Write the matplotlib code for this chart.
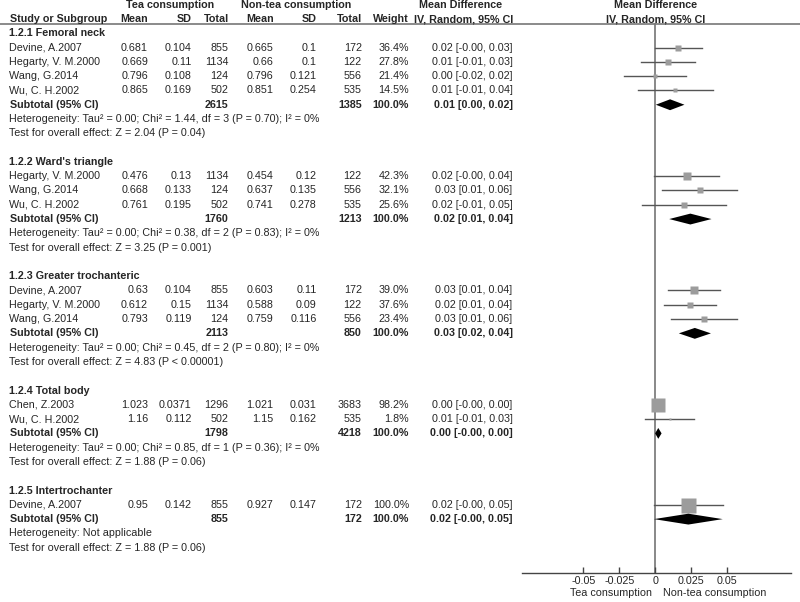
import matplotlib.pyplot as plt
import matplotlib.transforms as mtransforms
import matplotlib as mp

mp.rcParams['font.family'] = ['Liberation Sans', 'DejaVu Sans']
mp.rcParams['font.size'] = 7.75

# subgroups
groups = ['1.2.1 Femoral neck', "1.2.2 Ward's triangle", '1.2.3 Greater trochanteric',
          '1.2.4 Total body', '1.2.5 Intertrochanter']

# studies (group index, name, tea mean/sd/n, non-tea mean/sd/n, weight, CI text)
group_of = [0, 0, 0, 0, 1, 1, 1, 2, 2, 2, 3, 3, 4]
study = ['Devine, A.2007', 'Hegarty, V. M.2000', 'Wang, G.2014', 'Wu, C. H.2002',
         'Hegarty, V. M.2000', 'Wang, G.2014', 'Wu, C. H.2002',
         'Devine, A.2007', 'Hegarty, V. M.2000', 'Wang, G.2014',
         'Chen, Z.2003', 'Wu, C. H.2002',
         'Devine, A.2007']
tea_mean = [0.681, 0.669, 0.796, 0.865, 0.476, 0.668, 0.761, 0.63, 0.612, 0.793, 1.023, 1.16, 0.95]
tea_sd = [0.104, 0.11, 0.108, 0.169, 0.13, 0.133, 0.195, 0.104, 0.15, 0.119, 0.0371, 0.112, 0.142]
tea_n = [855, 1134, 124, 502, 1134, 124, 502, 855, 1134, 124, 1296, 502, 855]
non_mean = [0.665, 0.66, 0.796, 0.851, 0.454, 0.637, 0.741, 0.603, 0.588, 0.759, 1.021, 1.15, 0.927]
non_sd = [0.1, 0.1, 0.121, 0.254, 0.12, 0.135, 0.278, 0.11, 0.09, 0.116, 0.031, 0.162, 0.147]
non_n = [172, 122, 556, 535, 122, 556, 535, 172, 122, 556, 3683, 535, 172]
weight = [36.4, 27.8, 21.4, 14.5, 42.3, 32.1, 25.6, 39.0, 37.6, 23.4, 98.2, 1.8, 100.0]
ci_text = ['0.02 [-0.00, 0.03]', '0.01 [-0.01, 0.03]', '0.00 [-0.02, 0.02]', '0.01 [-0.01, 0.04]',
           '0.02 [-0.00, 0.04]', '0.03 [0.01, 0.06]', '0.02 [-0.01, 0.05]',
           '0.03 [0.01, 0.04]', '0.02 [0.01, 0.04]', '0.03 [0.01, 0.06]',
           '0.00 [-0.00, 0.00]', '0.01 [-0.01, 0.03]',
           '0.02 [-0.00, 0.05]']
# point estimates and CI bounds
md = [0.016, 0.009, 0.000, 0.014, 0.022, 0.031, 0.020, 0.027, 0.024, 0.034, 0.002, 0.010, 0.023]
lo = [-0.0005, -0.0099, -0.0215, -0.0121, -0.0006, 0.0050, -0.0091,
      0.0091, 0.0058, 0.0109, -0.0003, -0.0069, -0.0009]
hi = [0.0325, 0.0279, 0.0215, 0.0401, 0.0446, 0.0570, 0.0491,
      0.0449, 0.0422, 0.0571, 0.0043, 0.0269, 0.0469]

# subtotals
sub_tea_n = [2615, 1760, 2113, 1798, 855]
sub_non_n = [1385, 1213, 850, 4218, 172]
sub_ci = ['0.01 [0.00, 0.02]', '0.02 [0.01, 0.04]', '0.03 [0.02, 0.04]',
          '0.00 [-0.00, 0.00]', '0.02 [-0.00, 0.05]']
sub_md = [0.0103, 0.0244, 0.0275, 0.0021, 0.023]
sub_lo = [0.0004, 0.0097, 0.0164, -0.0001, -0.0009]
sub_hi = [0.0203, 0.0391, 0.0387, 0.0044, 0.0469]
heterogeneity = ['Heterogeneity: Tau\u00b2 = 0.00; Chi\u00b2 = 1.44, df = 3 (P = 0.70); I\u00b2 = 0%',
                 'Heterogeneity: Tau\u00b2 = 0.00; Chi\u00b2 = 0.38, df = 2 (P = 0.83); I\u00b2 = 0%',
                 'Heterogeneity: Tau\u00b2 = 0.00; Chi\u00b2 = 0.45, df = 2 (P = 0.80); I\u00b2 = 0%',
                 'Heterogeneity: Tau\u00b2 = 0.00; Chi\u00b2 = 0.85, df = 1 (P = 0.36); I\u00b2 = 0%',
                 'Heterogeneity: Not applicable']
overall = ['Test for overall effect: Z = 2.04 (P = 0.04)',
           'Test for overall effect: Z = 3.25 (P = 0.001)',
           'Test for overall effect: Z = 4.83 (P < 0.00001)',
           'Test for overall effect: Z = 1.88 (P = 0.06)',
           'Test for overall effect: Z = 1.88 (P = 0.06)']

xticks = [-0.05, -0.025, 0, 0.025, 0.05]
xticklabels = ['-0.05', '-0.025', '0', '0.025', '0.05']

W, H = 800, 602
TXT = '#262626'

fig = plt.figure(figsize=(W / 100, H / 100), dpi=100)
# forest panel: full height down to the axis line
ax = fig.add_axes((522 / W, 1 - 572.7 / H, 268.5 / W, 572.7 / H))
ax.set_xlim(-0.0926, 0.094)
ax.set_ylim(37.75, -2.33)
for s in ('top', 'left', 'right'):
    ax.spines[s].set_visible(False)
ax.spines['bottom'].set_color('#444444')
ax.spines['bottom'].set_linewidth(1.0)
ax.set_yticks([])
ax.set_xticks(xticks)
ax.set_xticklabels(xticklabels)
ax.tick_params(axis='x', direction='in', length=4, width=1.0, color='#444444',
               pad=2.5, labelcolor=TXT, labelsize=7.75)

tr = mtransforms.blended_transform_factory(fig.transFigure, ax.transData)


def txt(px, row, s, ha='left', bold=False):
    ax.text(px / W, row, s, transform=tr, ha=ha, va='center', color=TXT,
            fontweight='bold' if bold else 'normal')


# headers
txt(169.7, -2.0, 'Tea consumption', ha='center', bold=True)
txt(296, -2.0, 'Non-tea consumption', ha='center', bold=True)
txt(461, -2.0, 'Mean Difference', ha='center', bold=True)
txt(10, -1.0, 'Study or Subgroup', bold=True)
for px, s in [(148, 'Mean'), (191.7, 'SD'), (228.7, 'Total'), (273.5, 'Mean'),
              (316.7, 'SD'), (361.7, 'Total'), (409, 'Weight'), (513, 'IV, Random, 95% CI')]:
    txt(px, -1.0, s, ha='right', bold=True)
ax.text(0, -2.0, 'Mean Difference', ha='center', va='center', color=TXT, fontweight='bold')
ax.text(0, -1.0, 'IV, Random, 95% CI', ha='center', va='center', color=TXT, fontweight='bold')
ax.plot([0, 1], [-0.68, -0.68], transform=tr, color='#777777', lw=1.2, clip_on=False)
ax.plot([0, 0], [-0.68, 37.75], color='#888888', lw=1.4, clip_on=False, zorder=1)

row = 0
for g, gname in enumerate(groups):
    txt(9, row, gname, bold=True)
    row += 1
    for i in [k for k in range(len(study)) if group_of[k] == g]:
        txt(9, row, study[i])
        txt(148, row, str(tea_mean[i]), ha='right')
        txt(191.7, row, str(tea_sd[i]), ha='right')
        txt(228.7, row, str(tea_n[i]), ha='right')
        txt(273.5, row, str(non_mean[i]), ha='right')
        txt(316.7, row, str(non_sd[i]), ha='right')
        txt(361.7, row, str(non_n[i]), ha='right')
        txt(409, row, '%.1f%%' % weight[i], ha='right')
        txt(512.5, row, ci_text[i], ha='right')
        ax.plot([lo[i], hi[i]], [row, row], color='#555555', lw=1.0, zorder=2)
        side = 2 + 13 * weight[i] / 100
        ax.plot(md[i], row, 's', ms=side * 0.72, color='#9c9c9c', mec='none', zorder=3)
        row += 1
    txt(10, row, 'Subtotal (95% CI)', bold=True)
    txt(228.7, row, str(sub_tea_n[g]), ha='right', bold=True)
    txt(361.7, row, str(sub_non_n[g]), ha='right', bold=True)
    txt(409, row, '100.0%', ha='right', bold=True)
    txt(512.5, row, sub_ci[g], ha='right', bold=True)
    h = 0.38
    ax.fill([sub_lo[g], sub_md[g], sub_hi[g], sub_md[g]],
            [row, row - h, row, row + h], color='black', lw=0, zorder=4)
    row += 1
    txt(9, row, heterogeneity[g])
    row += 1
    txt(9, row, overall[g])
    row += 2

fig.text(651.7 / W, 1 - 593.3 / H, 'Tea consumption', ha='right', va='center', color=TXT)
fig.text(662.7 / W, 1 - 593.3 / H, 'Non-tea consumption', ha='left', va='center', color=TXT)

fig.savefig('out.png', dpi=100)
